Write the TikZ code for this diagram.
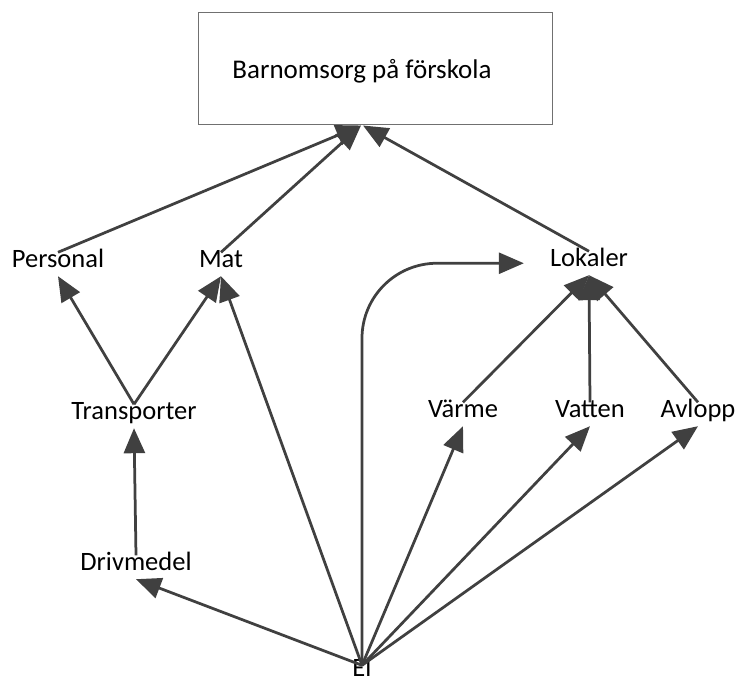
\documentclass[tikz,border=0pt]{standalone}
\usepackage{fontspec}
\setmainfont{Carlito}
\usetikzlibrary{arrows.meta}
\definecolor{linkgray}{HTML}{404040}
\definecolor{framegray}{HTML}{707070}
\begin{document}
\begin{tikzpicture}[x=1pt,y=-1pt,
  lbl/.style={anchor=base, inner xsep=7pt, inner ysep=7pt,
    text height=0.75em, text depth=0.2em,
    font=\fontsize{26.5}{30}\selectfont},
  link/.style={draw=linkgray, line width=2.75pt,
    -{Triangle[length=25pt,width=21pt]}}]
\useasboundingbox (0,0) rectangle (739,682);

% goal box with its title set a little left of centre
\node[draw=framegray, line width=1pt, minimum width=354pt, minimum height=112pt,
  inner sep=0pt] (goal) at (375,69) {};
\node[anchor=base, font=\fontsize{27}{30}\selectfont] (goaltext) at (362,79)
  {Barnomsorg på förskola};

% labels
\node[lbl] (personal) at (58,267) {Personal};
\node[lbl] (mat) at (221,267) {Mat};
\node[lbl] (lokaler) at (589,266) {Lokaler};
\node[lbl] (transporter) at (134,419) {Transporter};
\node[lbl] (varme) at (463,417) {Värme};
\node[lbl] (vatten) at (590,417) {Vatten};
\node[lbl] (avlopp) at (698,417) {Avlopp};
\node[lbl] (drivmedel) at (136,570) {Drivmedel};
\node[lbl, inner ysep=3pt] (el) at (362,676) {El};

% links into the goal
\draw[link] (personal.north) -- ([xshift=-14pt]goal.south);
\draw[link] (mat.north) -- ([xshift=-14pt]goal.south);
\draw[link] (lokaler.north) -- ([xshift=-12pt]goal.south);

% transport chain
\draw[link] (transporter.north) -- (personal.south);
\draw[link] (transporter.north) -- (mat.south);
\draw[link] (drivmedel.north) -- (transporter.south);

% premises
\draw[link] (varme.north) -- (lokaler.south);
\draw[link] (vatten.north) -- (lokaler.south);
\draw[link] (avlopp.north) -- (lokaler.south);

% electricity
\draw[link] (el.north) -- (drivmedel.south);
\draw[link] (el.north) -- (mat.south);
\draw[link] (el.north) -- (varme.south);
\draw[link] (el.north) -- (vatten.south);
\draw[link] (el.north) -- (avlopp.south);
\draw[link, rounded corners=75pt] (el.north) |- ([xshift=-19pt]lokaler.west);
\end{tikzpicture}
\end{document}
